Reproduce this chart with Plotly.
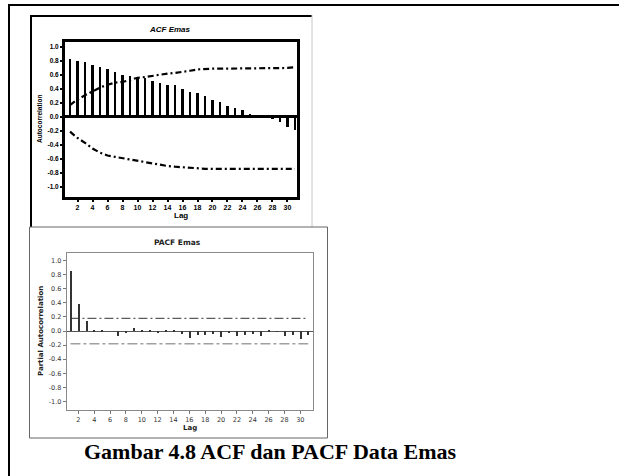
import plotly.graph_objects as go

W, H = 619, 476

lags = list(range(1, 32))
acf_values = [0.83, 0.80, 0.79, 0.74, 0.71, 0.69, 0.64, 0.60, 0.59, 0.57, 0.56,
              0.51, 0.48, 0.46, 0.45, 0.40, 0.36, 0.34, 0.30, 0.24, 0.22, 0.16,
              0.13, 0.10, 0.04, 0.015, 0.005, -0.03, -0.07, -0.15, -0.18]
acf_upper = [0.17, 0.25, 0.31, 0.37, 0.42, 0.46, 0.49, 0.50, 0.53, 0.56, 0.57,
             0.59, 0.61, 0.62, 0.63, 0.64, 0.66, 0.68, 0.69, 0.69, 0.69, 0.69,
             0.69, 0.69, 0.69, 0.69, 0.69, 0.69, 0.69, 0.70, 0.71]
acf_lower = [-0.21, -0.30, -0.37, -0.45, -0.51, -0.55, -0.57, -0.59, -0.61, -0.63,
             -0.64, -0.66, -0.69, -0.70, -0.71, -0.72, -0.73, -0.74, -0.74, -0.74,
             -0.74, -0.74, -0.74, -0.74, -0.74, -0.74, -0.74, -0.74, -0.74, -0.74, -0.74]
pacf_values = [0.86, 0.39, 0.15, 0.01, 0.005, 0.0, -0.07, -0.02, 0.04, 0.005, 0.02,
               -0.025, 0.015, 0.005, -0.04, -0.095, -0.05, -0.055, -0.04, -0.085,
               -0.02, -0.065, -0.05, -0.04, -0.065, 0.02, -0.01, -0.065, -0.055,
               -0.105, -0.05]
pacf_limit = 0.18

y_ticks = [1.0, 0.8, 0.6, 0.4, 0.2, 0.0, -0.2, -0.4, -0.6, -0.8, -1.0]
y_tick_labels = ["1.0", "0.8", "0.6", "0.4", "0.2", "0.0", "-0.2", "-0.4", "-0.6", "-0.8", "-1.0"]
x_ticks = list(range(2, 31, 2))
x_tick_labels = [str(v) for v in x_ticks]

acf_title = "ACF Emas"
pacf_title = "PACF Emas"
caption = "Gambar 4.8 ACF dan PACF Data Emas"


def px(x):
    return x / W


def py(y):
    return 1 - y / H


fig = go.Figure()

# ACF
fig.add_trace(go.Bar(x=lags, y=acf_values, width=0.38, marker=dict(color="black", line=dict(width=0)),
                     xaxis="x", yaxis="y", showlegend=False))
fig.add_trace(go.Scatter(x=lags, y=acf_upper, mode="lines", xaxis="x", yaxis="y", showlegend=False,
                         line=dict(color="black", width=2.2, dash="6px,3px,2px,3px")))
fig.add_trace(go.Scatter(x=lags, y=acf_lower, mode="lines", xaxis="x", yaxis="y", showlegend=False,
                         line=dict(color="black", width=2.2, dash="6px,3px,2px,3px")))

# PACF
fig.add_trace(go.Bar(x=lags, y=pacf_values, width=0.14, marker=dict(color="#333333", line=dict(width=0)),
                     xaxis="x2", yaxis="y2", showlegend=False))
fig.add_trace(go.Scatter(x=[lags[0], lags[-1]], y=[pacf_limit, pacf_limit], mode="lines",
                         xaxis="x2", yaxis="y2", showlegend=False,
                         line=dict(color="#333333", width=1, dash="9px,3px,2px,3px")))
fig.add_trace(go.Scatter(x=[lags[0], lags[-1]], y=[-pacf_limit, -pacf_limit], mode="lines",
                         xaxis="x2", yaxis="y2", showlegend=False,
                         line=dict(color="#a0a0a0", width=1.6, dash="10px,3px,3px,3px")))

acf_font = dict(family="Liberation Sans", size=7, color="black", weight="bold")
pacf_font = dict(family="DejaVu Sans", size=6.5, color="#333333")

fig.update_layout(
    width=W, height=H,
    margin=dict(l=0, r=0, t=0, b=0, autoexpand=False),
    paper_bgcolor="white", plot_bgcolor="white",
    bargap=0,
    xaxis=dict(domain=[px(65), px(297)], range=[0.33, 31.27], anchor="y", automargin=False,
               tickmode="array", tickvals=x_ticks, ticktext=x_tick_labels,
               tickfont=acf_font, ticks="outside", ticklen=2, tickwidth=2, tickcolor="black",
               showline=True, linecolor="black", linewidth=3, mirror=True,
               showgrid=False, zeroline=False),
    yaxis=dict(domain=[py(197), py(42)], range=[-1.143, 1.071], anchor="x", automargin=False,
               tickmode="array", tickvals=y_ticks, ticktext=y_tick_labels,
               tickfont=dict(family="Liberation Sans", size=6.5, color="black", weight="bold"),
               ticks="outside", ticklen=2, tickwidth=2, tickcolor="black",
               showline=True, linecolor="black", linewidth=3, mirror=True,
               showgrid=False, zeroline=True, zerolinecolor="black", zerolinewidth=2.5),
    xaxis2=dict(domain=[px(66.7), px(313)], range=[0.53, 31.6], anchor="y2", automargin=False,
                tickmode="array", tickvals=x_ticks, ticktext=x_tick_labels,
                tickfont=pacf_font, ticks="outside", ticklen=3, tickcolor="#777777",
                showline=True, linecolor="#8a8a8a", linewidth=1, mirror=True,
                showgrid=False, zeroline=False),
    yaxis2=dict(domain=[py(410), py(252.7)], range=[-1.12, 1.11], anchor="x2", automargin=False,
                tickmode="array", tickvals=y_ticks, ticktext=y_tick_labels,
                tickfont=pacf_font, ticks="outside", ticklen=3, tickcolor="#777777",
                showline=True, linecolor="#8a8a8a", linewidth=1, mirror=True,
                showgrid=False, zeroline=True, zerolinecolor="#555555", zerolinewidth=1),
)

shapes = [
    # outer frame
    dict(type="line", xref="paper", yref="paper", x0=px(8), x1=px(619), y0=py(5), y1=py(5),
         line=dict(color="black", width=2)),
    dict(type="line", xref="paper", yref="paper", x0=px(9), x1=px(9), y0=py(4), y1=py(476),
         line=dict(color="black", width=2)),
    # ACF image box
    dict(type="line", xref="paper", yref="paper", x0=px(30), x1=px(312), y0=py(16), y1=py(16),
         line=dict(color="black", width=2)),
    dict(type="line", xref="paper", yref="paper", x0=px(31), x1=px(31), y0=py(15), y1=py(227),
         line=dict(color="black", width=2)),
    dict(type="line", xref="paper", yref="paper", x0=px(312), x1=px(312), y0=py(15), y1=py(227),
         line=dict(color="#c8c8c8", width=1)),
    # PACF image box
    dict(type="rect", xref="paper", yref="paper", x0=px(29.5), x1=px(327.5), y0=py(438), y1=py(227),
         line=dict(color="#666666", width=1)),
]
fig.update_layout(shapes=shapes)


def note(text, x, y, font, angle=0):
    return dict(text=text, x=px(x), y=py(y), xref="paper", yref="paper", showarrow=False,
                xanchor="center", yanchor="middle", textangle=angle, font=font)


annotations = [
    note(acf_title, 170, 29, dict(family="Liberation Sans", size=8, color="black", weight="bold", style="italic")),
    note("Autocorrelation", 39, 119, dict(family="Liberation Sans", size=6.5, color="black", weight="bold"), -90),
    note("Lag", 181, 216, dict(family="Liberation Sans", size=8, color="black", weight="bold")),
    note(pacf_title, 177, 243, dict(family="DejaVu Sans", size=7.5, color="#222222", weight="bold")),
    note("Partial Autocorrelation", 41, 331, dict(family="DejaVu Sans", size=7, color="#222222", weight="bold"), -90),
    note("Lag", 190, 428, dict(family="DejaVu Sans", size=7, color="#222222", weight="bold")),
    note(caption, 270, 451, dict(family="Liberation Serif", size=22, color="black", weight="bold")),
]
fig.update_layout(annotations=annotations)

fig.write_html("out.html", config={"displayModeBar": False},
               post_script="document.body.style.margin='0';document.body.style.padding='0';"
                           "document.documentElement.style.margin='0';")
